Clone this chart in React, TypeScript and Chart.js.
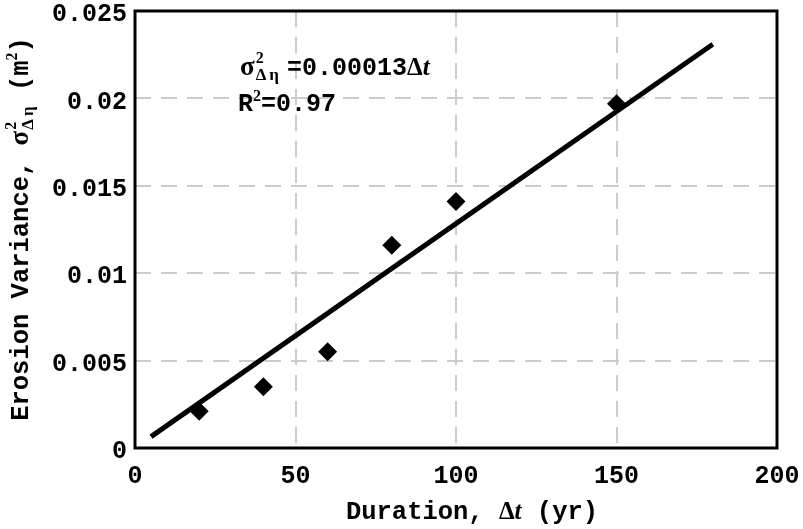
import React, { useEffect, useRef } from 'react';
import { Chart, registerables } from 'chart.js';
Chart.register(...registerables);

const durations = [20, 40, 60, 80, 100, 150];
const variances = [0.0021, 0.0035, 0.0055, 0.0116, 0.0141, 0.0197];
const fitX = [5, 180];
const fitY = [0.00065, 0.0231];
const yTickValues = [0, 0.005, 0.01, 0.015, 0.02, 0.025];
const yTickLabels = ['0', '0.005', '0.01', '0.015', '0.02', '0.025'];
const xTickValues = [0, 50, 100, 150, 200];
const xTickLabels = ['0', '50', '100', '150', '200'];

const MONO = "'Liberation Mono', 'Courier New', monospace";
const SERIF = "'Liberation Serif', 'Times New Roman', serif";

type Seg = { t: string; f: string; dy?: number; noAdvance?: boolean; after?: number };

function segWidth(ctx: CanvasRenderingContext2D, s: Seg) {
  if (s.noAdvance) return 0;
  ctx.font = s.f;
  return ctx.measureText(s.t).width + (s.after || 0);
}

function drawRich(ctx: CanvasRenderingContext2D, segs: Seg[], x: number, y: number, align: 'left' | 'center') {
  let w = 0;
  for (const s of segs) w += segWidth(ctx, s);
  let cx = align === 'center' ? x - w / 2 : x;
  ctx.textAlign = 'left';
  ctx.textBaseline = 'alphabetic';
  for (const s of segs) {
    ctx.font = s.f;
    ctx.fillText(s.t, cx, y + (s.dy || 0));
    cx += segWidth(ctx, s);
  }
}

function sigmaSegs(trail: number): Seg[] {
  return [
    { t: '\u03c3', f: `bold 27px ${SERIF}`, after: 1 },
    { t: '2', f: `bold 16px ${SERIF}`, dy: -12, noAdvance: true },
    { t: '\u0394', f: `bold 17px ${SERIF}`, dy: 5, after: 3 },
    { t: '\u03b7', f: `bold 17px ${SERIF}`, dy: 5, after: trail },
  ];
}

const decorPlugin = {
  id: 'decor',
  afterDraw(chart: any) {
    const ctx: CanvasRenderingContext2D = chart.ctx;
    const a = chart.chartArea;
    ctx.save();
    ctx.strokeStyle = '#000';
    ctx.lineWidth = 3;
    ctx.strokeRect(a.left, a.top, a.right - a.left, a.bottom - a.top);
    ctx.fillStyle = '#000';

    const xt: Seg[] = [
      { t: 'Duration, ', f: `bold 25.5px ${MONO}` },
      { t: '\u0394', f: `bold 25px ${SERIF}` },
      { t: 't', f: `italic bold 25px ${SERIF}` },
      { t: ' (yr)', f: `bold 25.5px ${MONO}` },
    ];
    drawRich(ctx, xt, 472, 519, 'center');

    const yt: Seg[] = [
      { t: 'Erosion Variance, ', f: `bold 25.5px ${MONO}` },
      ...sigmaSegs(0),
      { t: ' (m', f: `bold 25.5px ${MONO}` },
      { t: '2', f: `bold 16px ${SERIF}`, dy: -11 },
      { t: ')', f: `bold 25.5px ${MONO}` },
    ];
    ctx.save();
    ctx.translate(28, 229);
    ctx.rotate(-Math.PI / 2);
    drawRich(ctx, yt, 0, 0, 'center');
    ctx.restore();

    const l1: Seg[] = [
      ...sigmaSegs(8),
      { t: '=0.00013', f: `bold 25px ${MONO}` },
      { t: '\u0394', f: `bold 25px ${SERIF}` },
      { t: 't', f: `italic bold 25px ${SERIF}` },
    ];
    drawRich(ctx, l1, 240, 75, 'left');
    const l2: Seg[] = [
      { t: 'R', f: `bold 25px ${MONO}` },
      { t: '2', f: `bold 16px ${SERIF}`, dy: -10 },
      { t: '=0.97', f: `bold 25px ${MONO}` },
    ];
    drawRich(ctx, l2, 238, 111, 'left');
    ctx.restore();
  },
};

export default function App() {
  const ref = useRef<HTMLCanvasElement>(null);
  useEffect(() => {
    document.body.style.margin = '0';
    const canvas = ref.current!;
    const chart = new Chart(canvas, {
      type: 'scatter',
      data: {
        datasets: [
          {
            type: 'line',
            label: 'fit',
            data: fitX.map((x, i) => ({ x, y: fitY[i] })),
            borderColor: '#000',
            borderWidth: 5,
            pointRadius: 0,
            fill: false,
            tension: 0,
          } as any,
          {
            label: 'data',
            data: durations.map((x, i) => ({ x, y: variances[i] })),
            pointStyle: 'rectRot',
            pointRadius: 9.5,
            pointHoverRadius: 9.5,
            backgroundColor: '#000',
            borderColor: '#000',
            borderWidth: 0,
          },
        ],
      },
      options: {
        responsive: false,
        animation: false,
        events: [],
        layout: { padding: { left: 0, top: 11, right: 26, bottom: 0 } },
        plugins: { legend: { display: false }, tooltip: { enabled: false } },
        scales: {
          x: {
            type: 'linear',
            min: 0,
            max: 200,
            afterBuildTicks: (s: any) => {
              s.ticks = xTickValues.map((v) => ({ value: v }));
            },
            afterFit: (s: any) => {
              s.height = 81;
              s.paddingLeft = 0;
              s.paddingRight = 0;
            },
            ticks: {
              padding: 14,
              maxRotation: 0,
              autoSkip: false,
              color: '#000',
              font: { family: MONO, size: 25, weight: 'bold' },
              callback: (v: any) => {
                const i = xTickValues.indexOf(Number(v));
                return i >= 0 ? xTickLabels[i] : '';
              },
            },
            grid: { color: '#cccccc', lineWidth: 2, drawTicks: false },
            border: { display: false, dash: [16, 10] },
          },
          y: {
            type: 'linear',
            min: 0,
            max: 0.025,
            afterBuildTicks: (s: any) => {
              s.ticks = yTickValues.map((v) => ({ value: v }));
            },
            afterFit: (s: any) => {
              s.width = 135;
              s.paddingTop = 0;
              s.paddingBottom = 0;
            },
            ticks: {
              padding: 8,
              labelOffset: 4,
              autoSkip: false,
              color: '#000',
              font: { family: MONO, size: 25, weight: 'bold' },
              callback: (v: any) => {
                const i = yTickValues.findIndex((t) => Math.abs(t - Number(v)) < 1e-9);
                return i >= 0 ? yTickLabels[i] : '';
              },
            },
            grid: { color: '#cccccc', lineWidth: 2, drawTicks: false },
            border: { display: false, dash: [16, 10] },
          },
        },
      },
      plugins: [decorPlugin],
    } as any);
    return () => chart.destroy();
  }, []);
  return <canvas ref={ref} width={803} height={529} style={{ display: 'block' }} />;
}
